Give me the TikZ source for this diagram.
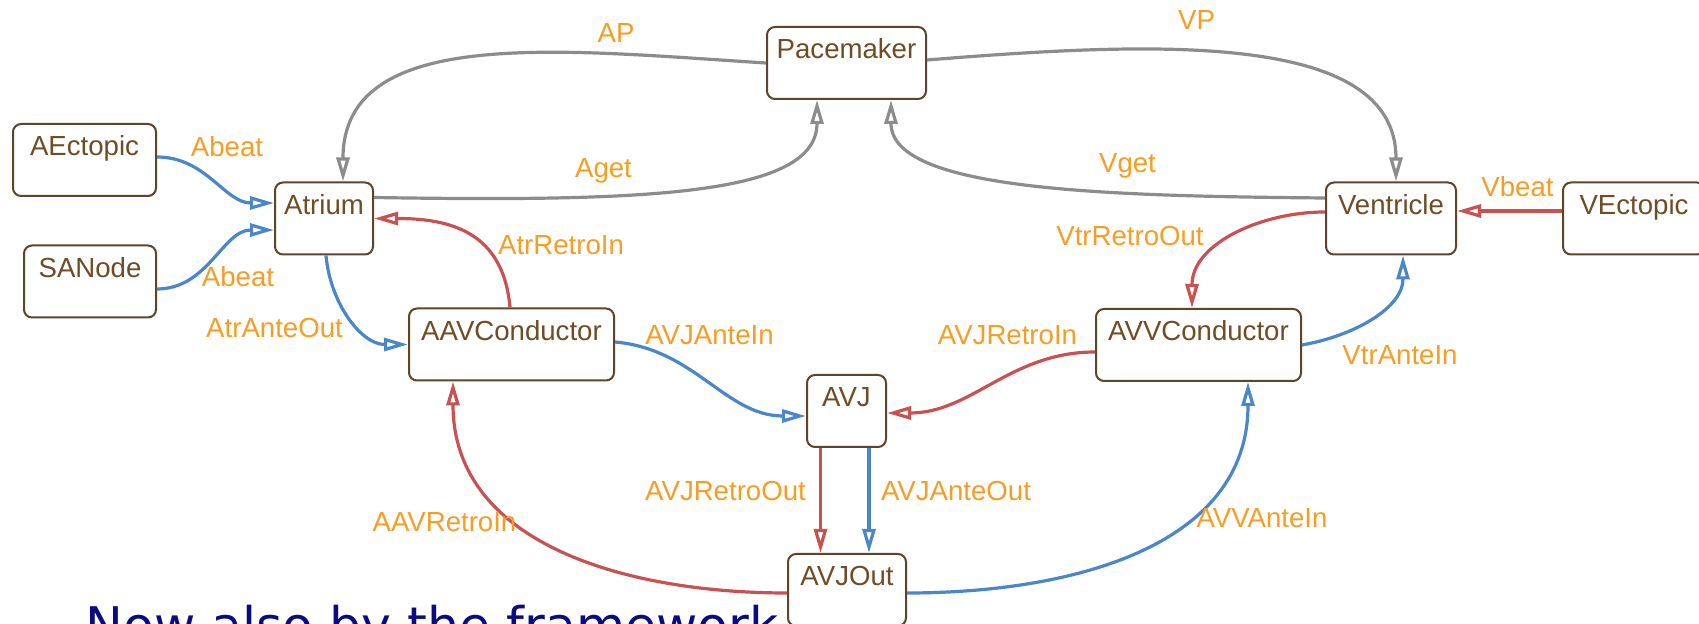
\documentclass[tikz,border=0pt]{standalone}
\usepackage{fontspec}
\setmainfont{Liberation Sans}
\newfontfamily\slidefont{DejaVu Sans}
\usetikzlibrary{arrows.meta, calc, positioning}
\definecolor{boxBrown}{RGB}{96,68,40}
\definecolor{textBrown}{RGB}{112,76,36}
\definecolor{portOrange}{RGB}{247,157,36}
\definecolor{anteBlue}{RGB}{74,134,200}
\definecolor{retroRed}{RGB}{200,82,82}
\definecolor{paceGray}{RGB}{140,140,140}
\definecolor{slideBlue}{RGB}{10,10,130}
\tikzset{
    comp/.style={rectangle, draw=boxBrown, line width=1pt, rounded corners=4pt, fill=white, text=textBrown, font=\fontsize{13.8}{16}\selectfont, inner sep=0pt, text height=16pt, text depth=20pt},
    port/.style={anchor=base, inner sep=0pt, text=portOrange, font=\fontsize{13.8}{16}\selectfont},
    wire/.style={line width=1.6pt, -{Triangle[open, length=12pt, width=6.5pt]}},
    ante/.style={wire, draw=anteBlue},
    retro/.style={wire, draw=retroRed},
    pace/.style={wire, draw=paceGray},
}
\newcommand{\portLabel}[3]{
    \node[port] (#1) at (#2) {#3};
}

\begin{document}
\begin{tikzpicture}[x=0.5pt, y=0.5pt]
    \clip (0,0) rectangle (1699,-624);

    % slide line, cut by the page
    \node[anchor=base west, inner sep=0pt, text=slideBlue, font=\slidefont\fontsize{25.25}{30}\selectfont] (slideLine) at (85,-644) {Now also by the framework};

    % components
    \node[comp, minimum width=71.5pt] (AEctopic) at (84.5,-160) {AEctopic};
    \node[comp, minimum width=66pt] (SANode) at (90,-281.5) {SANode};
    \node[comp, minimum width=49pt] (Atrium) at (324,-218.5) {Atrium};
    \node[comp, minimum width=79.5pt] (Pacemaker) at (846.5,-63) {Pacemaker};
    \node[comp, minimum width=65pt] (Ventricle) at (1391,-218.5) {Ventricle};
    \node[comp, minimum width=71pt] (VEctopic) at (1634,-218.5) {VEctopic};
    \node[comp, minimum width=102.5pt] (AAVConductor) at (511.5,-344.5) {AAVConductor};
    \node[comp, minimum width=102.5pt] (AVVConductor) at (1198.5,-345) {AVVConductor};
    \node[comp, minimum width=39.5pt] (AVJ) at (846.5,-411) {AVJ};
    \node[comp, minimum width=59pt] (AVJOut) at (847,-590) {AVJOut};

    % pacemaker wires
    \draw[pace] (Pacemaker.west) .. controls (560,-50) and (343,-25) .. ($(Atrium.north)+(19,0)$);
    \draw[pace] ($(Atrium.north east)+(0,-16)$) .. controls (650,-202) and (817,-195) .. ($(Pacemaker.south)+(-29.5,0)$);
    \draw[pace] ($(Ventricle.west)+(0,20.5)$) .. controls (1100,-196) and (891,-190) .. ($(Pacemaker.south)+(44.5,0)$);
    \draw[pace] ($(Pacemaker.east)+(0,3)$) .. controls (1150,-42) and (1396,-30) .. ($(Ventricle.north)+(5,0)$);

    % antegrade wires
    \draw[ante] ($(AEctopic.east)+(0,3)$) to[out=0, in=180] ($(Atrium.west)+(0,15.5)$);
    \draw[ante] ($(SANode.east)+(0,-7.5)$) to[out=0, in=180] ($(Atrium.west)+(0,-11.5)$);
    \draw[ante] ($(Atrium.south)+(2,0)$) to[out=-85, in=180] (AAVConductor.west);
    \draw[ante] ($(AAVConductor.east)+(0,2.5)$) to[out=-5, in=180] ($(AVJ.west)+(0,-5)$);
    \draw[ante] ($(AVJ.south)+(22.5,0)$) -- ($(AVJOut.north)+(22,0)$);
    \draw[ante] ($(AVJOut.east)+(0,-3)$) to[out=0, in=-90, looseness=1.05] ($(AVVConductor.south)+(49.5,0)$);
    \draw[ante] (AVVConductor.east) to[out=10, in=-90] ($(Ventricle.south)+(12,0)$);

    % retrograde wires
    \draw[retro] ($(VEctopic.west)+(0,7.5)$) -- ($(Ventricle.east)+(0,7.5)$);
    \draw[retro] ($(Ventricle.west)+(0,6.5)$) to[out=180, in=90] ($(AVVConductor.north)+(-6.5,0)$);
    \draw[retro] ($(AVVConductor.west)+(0,-7)$) to[out=180, in=0] ($(AVJ.east)+(0,-2)$);
    \draw[retro] ($(AVJ.south)+(-26,0)$) -- ($(AVJOut.north)+(-26.5,0)$);
    \draw[retro] ($(AVJOut.west)+(0,-3)$) to[out=180, in=-90, looseness=1.05] ($(AAVConductor.south)+(-58.5,0)$);
    \draw[retro] ($(AAVConductor.north)+(-1.5,0)$) to[out=95, in=0, looseness=1.2] (Atrium.east);

    % port labels
    \portLabel{lAP}{616,-43}{AP}
    \portLabel{lVP}{1196.5,-30}{VP}
    \portLabel{lAget}{603.5,-178}{Aget}
    \portLabel{lVget}{1127.5,-173}{Vget}
    \portLabel{lAbeatE}{227,-157}{Abeat}
    \portLabel{lAbeatS}{238,-287}{Abeat}
    \portLabel{lAtrAnteOut}{274.5,-338}{AtrAnteOut}
    \portLabel{lAtrRetroIn}{561,-255}{AtrRetroIn}
    \portLabel{lAVJAnteIn}{709.5,-345}{AVJAnteIn}
    \portLabel{lAVJRetroIn}{1007.5,-345}{AVJRetroIn}
    \portLabel{lVtrRetroOut}{1130,-246}{VtrRetroOut}
    \portLabel{lVbeat}{1517.5,-197}{Vbeat}
    \portLabel{lVtrAnteIn}{1400,-365}{VtrAnteIn}
    \portLabel{lAVJRetroOut}{725.5,-501}{AVJRetroOut}
    \portLabel{lAVJAnteOut}{956,-501}{AVJAnteOut}
    \portLabel{lAAVRetroIn}{444.5,-532}{AAVRetroIn}
    \portLabel{lAVVAnteIn}{1262,-528}{AVVAnteIn}
\end{tikzpicture}
\end{document}
